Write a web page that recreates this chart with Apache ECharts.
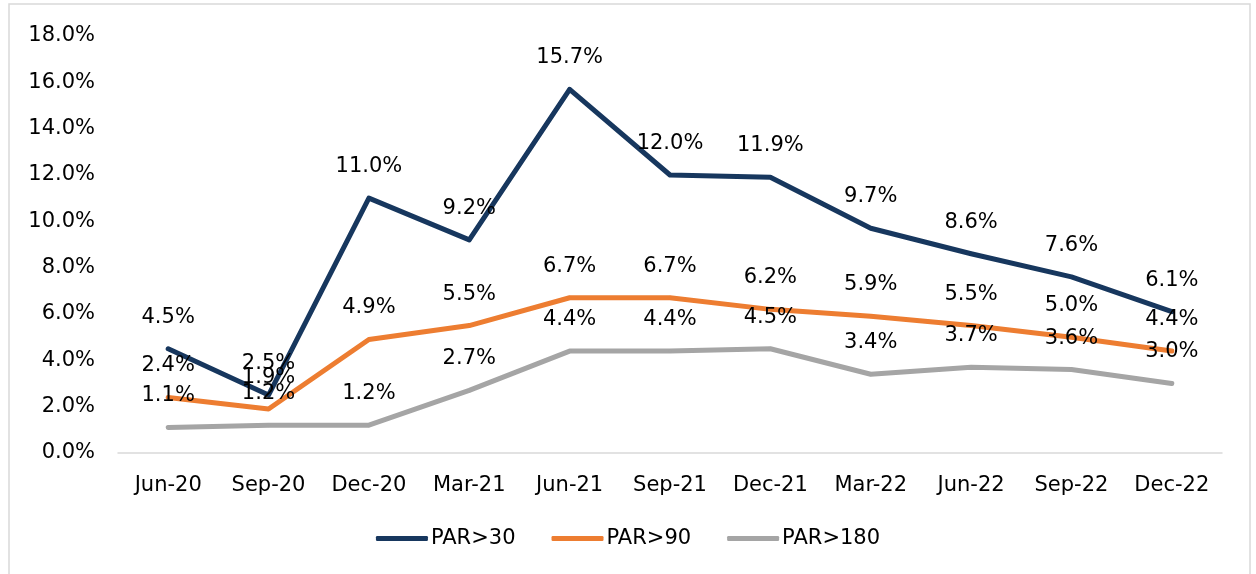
<!DOCTYPE html>
<html>
<head>
<meta charset="utf-8">
<script src="https://cdn.jsdelivr.net/npm/echarts@6/dist/echarts.min.js"></script>
<style>
  html, body { margin: 0; padding: 0; background: #fff; }
  #chart { width: 1256px; height: 574px; }
</style>
</head>
<body>
<div id="chart"></div>
<script>
// quarters on the x axis
const categories = ['Jun-20', 'Sep-20', 'Dec-20', 'Mar-21', 'Jun-21', 'Sep-21', 'Dec-21', 'Mar-22', 'Jun-22', 'Sep-22', 'Dec-22']

// portfolio at risk, in percent
const par30 = [4.5, 2.5, 11.0, 9.2, 15.7, 12.0, 11.9, 9.7, 8.6, 7.6, 6.1]
const par90 = [2.4, 1.9, 4.9, 5.5, 6.7, 6.7, 6.2, 5.9, 5.5, 5.0, 4.4]
const par180 = [1.1, 1.2, 1.2, 2.7, 4.4, 4.4, 4.5, 3.4, 3.7, 3.6, 3.0]

const seriesNames = ['PAR>30', 'PAR>90', 'PAR>180']
const colors = ['#17375E', '#ED7D31', '#A5A5A5']

const FONT = 'DejaVu Sans'
const FS = 21

function lineSeries(name, data, color) {
  return {
    name: name,
    type: 'line',
    data: data,
    symbol: 'circle',
    symbolSize: 4,
    itemStyle: { color: color },
    lineStyle: { color: color, width: 5, cap: 'round', join: 'round' },
    label: {
      show: true,
      position: 'top',
      distance: 19,
      color: '#000',
      fontFamily: FONT,
      fontSize: FS,
      formatter: p => p.value.toFixed(1) + '%'
    },
    labelLayout: { hideOverlap: false },
    emphasis: { disabled: true },
    animation: false
  }
}

const chart = echarts.init(document.getElementById('chart'), null, { renderer: 'canvas' })

chart.setOption({
  backgroundColor: '#fff',
  color: colors,
  textStyle: { fontFamily: FONT },
  grid: { left: 118, right: 34, top: 36, bottom: 121, containLabel: false },
  graphic: [{
    type: 'rect',
    shape: { x: 9, y: 4, width: 1241, height: 590 },
    style: { fill: 'none', stroke: '#D9D9D9', lineWidth: 1.5 },
    silent: true
  }],
  legend: {
    data: seriesNames,
    bottom: 20,
    left: 'center',
    icon: 'roundRect',
    itemWidth: 52,
    itemHeight: 5,
    itemGap: 36,
    textStyle: { color: '#000', fontFamily: FONT, fontSize: FS, padding: [0, 0, 0, -2] }
  },
  xAxis: {
    type: 'category',
    data: categories,
    boundaryGap: true,
    axisLine: { lineStyle: { color: '#D9D9D9', width: 1.5 } },
    axisTick: { show: false },
    axisLabel: { color: '#000', fontFamily: FONT, fontSize: FS, margin: 22, interval: 0 }
  },
  yAxis: {
    type: 'value',
    min: 0,
    max: 18,
    interval: 2,
    axisLine: { show: false },
    axisTick: { show: false },
    splitLine: { show: false },
    axisLabel: {
      color: '#000', fontFamily: FONT, fontSize: FS, margin: 23,
      formatter: v => v.toFixed(1) + '%'
    }
  },
  series: [
    lineSeries(seriesNames[0], par30, colors[0]),
    lineSeries(seriesNames[1], par90, colors[1]),
    lineSeries(seriesNames[2], par180, colors[2])
  ]
})
</script>
</body>
</html>
